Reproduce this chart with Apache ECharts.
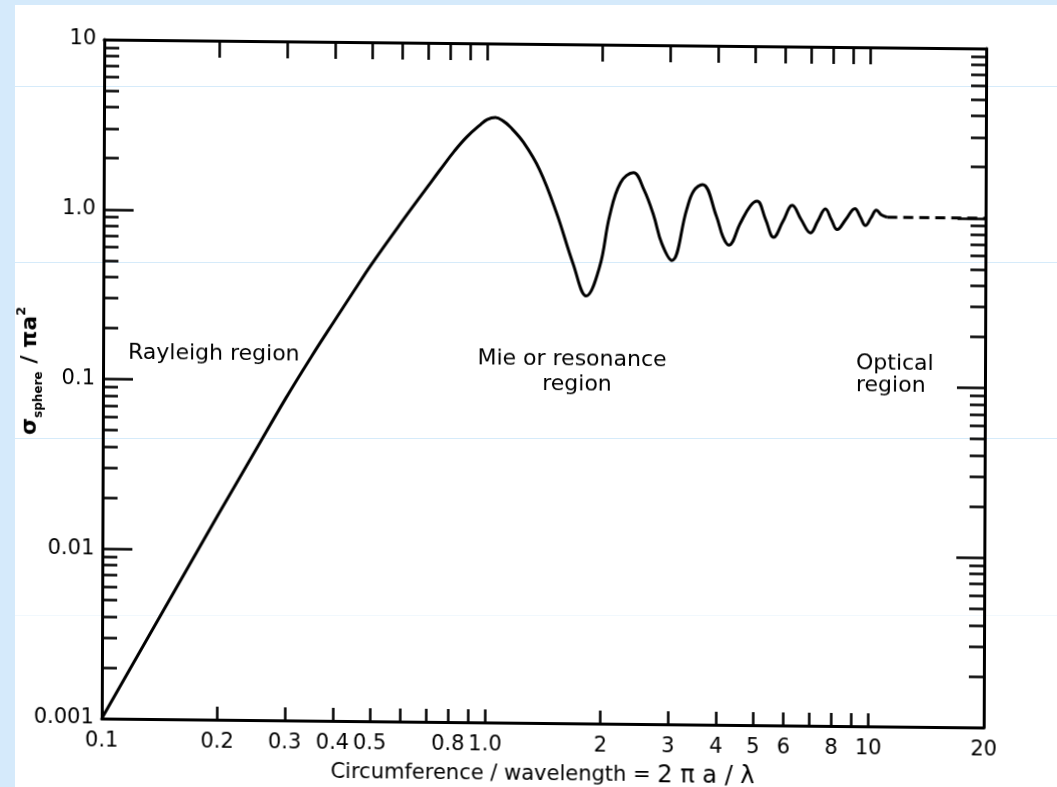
<!DOCTYPE html>
<html>
<head>
<meta charset="utf-8">
<script src="https://cdn.jsdelivr.net/npm/echarts@6/dist/echarts.min.js"></script>
<style>
html,body{margin:0;padding:0;width:1057px;height:787px;overflow:hidden;background:#d5eafb;}
#paper{position:absolute;left:15px;top:5px;right:0;bottom:0;background:#ffffff;}
.rule{position:absolute;left:15px;right:0;height:1px;background:#d6ebfa;}
#chart{position:absolute;left:0;top:0;width:1057px;height:787px;transform-origin:544px 383.5px;transform:matrix(1,0.0102,-0.0037,1,0,0);}
</style>
</head>
<body>
<div id="paper"></div>
<div class="rule" style="top:86px"></div>
<div class="rule" style="top:262px"></div>
<div class="rule" style="top:438px"></div>
<div class="rule" style="top:615px;opacity:0.35"></div>
<div id="chart"></div>
<script>
// ---- data ----
const xLabelValues = [0.1, 0.2, 0.3, 0.4, 0.5, 0.8, 1.0, 2, 3, 4, 5, 6, 8, 10, 20];
const xTickValues = [0.2, 0.3, 0.4, 0.5, 0.6, 0.7, 0.8, 0.9, 1, 2, 3, 4, 5, 6, 7, 8, 9, 10];
const yLabelValues = [0.001, 0.01, 0.1, 1, 10];
const yMajorTicks = [0.001, 0.01, 0.1, 1, 10];
const yMinorTicks = [
  0.002, 0.003, 0.004, 0.005, 0.006, 0.007, 0.008, 0.009,
  0.02, 0.03, 0.04, 0.05, 0.06, 0.07, 0.08, 0.09,
  0.2, 0.3, 0.4, 0.5, 0.6, 0.7, 0.8, 0.9,
  2, 3, 4, 5, 6, 7, 8, 9
];
const curveX = [0.1, 0.2, 0.25, 0.3, 0.35, 0.4, 0.45, 0.5, 0.6, 0.7, 0.753, 0.82, 0.884, 0.96, 1.0, 1.05, 1.1,
  1.148, 1.243, 1.37, 1.52, 1.68, 1.82,
  1.97, 2.09, 2.23, 2.41, 2.565, 2.72, 2.86, 3.04, 3.32, 3.46, 3.65, 3.97, 4.13, 4.28, 4.58, 4.86, 5.07,
  5.33, 5.6, 5.92, 6.26, 6.6, 6.99, 7.3, 7.64, 7.92, 8.2, 8.65, 9.12, 9.42, 9.72, 10.05, 10.38, 10.7, 11.08];
const curveY = [0.001, 0.016, 0.0385, 0.079, 0.14, 0.225, 0.34, 0.49, 0.88, 1.42, 1.78, 2.3, 2.8, 3.32, 3.56, 3.66, 3.5,
  3.23, 2.63, 1.82, 1.01, 0.51, 0.33,
  0.49, 0.98, 1.54, 1.77, 1.41, 1.0, 0.68, 0.54, 1.08, 1.39, 1.52, 0.99, 0.75, 0.67, 0.9, 1.14, 1.22,
  0.96, 0.75, 0.93, 1.16, 0.96, 0.80, 0.94, 1.11, 0.96, 0.84, 0.97, 1.12, 1.0, 0.89, 0.99, 1.10, 1.03, 1.0];
const opticalX = [11.08, 20];
const opticalY = [1.0, 1.0];
const xName = 'Circumference / wavelength = ';
const xNameMath = '2 π a / λ';
const regionLabels = ['Rayleigh region', 'Mie or resonance', 'region', 'Optical', 'region'];

// ---- chart ----
const FONT = '"DejaVu Sans", "Liberation Sans", sans-serif';
const INK = '#000';
const fmt = v => {
  const r = +v.toPrecision(6);
  if (r === 1) return '1.0';
  return String(r);
};
const pairs = (xs, ys) => xs.map((x, i) => [x, ys[i]]);

const axisLine = { show: true, onZero: false, lineStyle: { color: INK, width: 3 } };

const chart = echarts.init(document.getElementById('chart'), null, { renderer: 'canvas' });
chart.setOption({
  backgroundColor: 'transparent',
  animation: false,
  grid: { left: 103, top: 44, width: 882, height: 679, containLabel: false, outerBoundsMode: 'none' },
  xAxis: [
    {
      type: 'log', logBase: 10, min: 0.1, max: 20, position: 'bottom',
      axisLine: axisLine,
      axisTick: { show: true, inside: true, length: 13, customValues: xTickValues, lineStyle: { color: INK, width: 2.5 } },
      axisLabel: { show: true, customValues: xLabelValues, formatter: fmt, color: INK, fontSize: 21, fontFamily: FONT, margin: 12 },
      splitLine: { show: false }, minorTick: { show: false }, minorSplitLine: { show: false },
      name: '{t|' + xName + '}{m|' + xNameMath + '}',
      nameLocation: 'middle', nameGap: 40,
      nameTextStyle: {
        rich: {
          t: { fontSize: 21, fontFamily: FONT, color: INK },
          m: { fontSize: 24, fontFamily: FONT, color: INK }
        }
      }
    },
    {
      type: 'log', logBase: 10, min: 0.1, max: 20, position: 'top',
      axisLine: axisLine,
      axisTick: { show: true, inside: true, length: 17, customValues: xTickValues, lineStyle: { color: INK, width: 2.5 } },
      axisLabel: { show: false },
      splitLine: { show: false }
    }
  ],
  yAxis: [
    {
      type: 'log', logBase: 10, min: 0.001, max: 10, position: 'left',
      axisLine: axisLine,
      axisTick: { show: true, inside: true, length: 30, customValues: yMajorTicks, lineStyle: { color: INK, width: 2.5 } },
      axisLabel: { show: true, customValues: yLabelValues, formatter: fmt, color: INK, fontSize: 21, fontFamily: FONT, margin: 8 },
      splitLine: { show: false }
    },
    {
      type: 'log', logBase: 10, min: 0.001, max: 10, position: 'left',
      axisLine: { show: false },
      axisTick: { show: true, inside: true, length: 15, customValues: yMinorTicks, lineStyle: { color: INK, width: 2.5 } },
      axisLabel: { show: false },
      splitLine: { show: false }
    },
    {
      type: 'log', logBase: 10, min: 0.001, max: 10, position: 'right',
      axisLine: axisLine,
      axisTick: { show: true, inside: true, length: 28, customValues: yMajorTicks, lineStyle: { color: INK, width: 2.5 } },
      axisLabel: { show: false },
      splitLine: { show: false }
    },
    {
      type: 'log', logBase: 10, min: 0.001, max: 10, position: 'right',
      axisLine: { show: false },
      axisTick: { show: true, inside: true, length: 15, customValues: yMinorTicks, lineStyle: { color: INK, width: 2.5 } },
      axisLabel: { show: false },
      splitLine: { show: false }
    }
  ],
  series: [
    {
      type: 'line', xAxisIndex: 0, yAxisIndex: 0,
      data: pairs(curveX, curveY),
      smooth: 0.4, showSymbol: false, symbol: 'none',
      lineStyle: { color: INK, width: 3 },
      silent: true
    },
    {
      type: 'line', xAxisIndex: 0, yAxisIndex: 0,
      data: pairs(opticalX, opticalY),
      showSymbol: false, symbol: 'none',
      lineStyle: { color: INK, width: 3, type: [10, 6] },
      silent: true
    }
  ],
  graphic: [
    { type: 'text', x: 128, y: 357, style: { text: regionLabels[0], fill: INK, font: '22px ' + FONT, textAlign: 'left', textVerticalAlign: 'middle' } },
    { type: 'text', x: 572, y: 359, style: { text: regionLabels[1], fill: INK, font: '22px ' + FONT, textAlign: 'center', textVerticalAlign: 'middle' } },
    { type: 'text', x: 577, y: 384, style: { text: regionLabels[2], fill: INK, font: '22px ' + FONT, textAlign: 'center', textVerticalAlign: 'middle' } },
    { type: 'text', x: 856, y: 360, style: { text: regionLabels[3], fill: INK, font: '22px ' + FONT, textAlign: 'left', textVerticalAlign: 'middle' } },
    { type: 'text', x: 856, y: 382, style: { text: regionLabels[4], fill: INK, font: '22px ' + FONT, textAlign: 'left', textVerticalAlign: 'middle' } },
    {
      type: 'text', x: 30, y: 376, rotation: Math.PI / 2,
      style: {
        text: '{s|σ}{b|sphere}{n| / πa}{p|2}',
        textAlign: 'center', textVerticalAlign: 'middle', fill: INK,
        rich: {
          s: { fontSize: 22, fontWeight: 'bold', fontFamily: FONT, fill: INK, lineHeight: 30 },
          b: { fontSize: 12, fontWeight: 'bold', fontFamily: FONT, fill: INK, lineHeight: 30, verticalAlign: 'bottom', padding: [12, 0, 0, 0] },
          n: { fontSize: 22, fontWeight: 'bold', fontFamily: FONT, fill: INK, lineHeight: 30 },
          p: { fontSize: 13, fontWeight: 'bold', fontFamily: FONT, fill: INK, lineHeight: 30, verticalAlign: 'top', padding: [0, 0, 12, 0] }
        }
      }
    }
  ]
});
</script>
</body>
</html>
